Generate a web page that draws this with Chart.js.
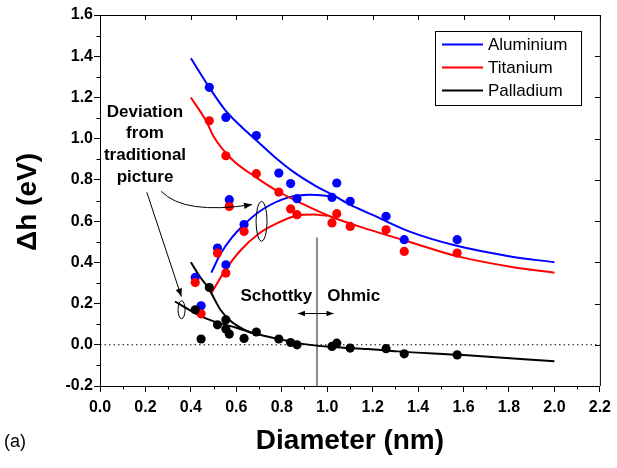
<!DOCTYPE html>
<html>
<head>
<meta charset="utf-8">
<script src="https://cdn.jsdelivr.net/npm/chart.js@4.4.0/dist/chart.umd.min.js"></script>
<style>
  html, body { margin: 0; padding: 0; background: #fff; }
  canvas { display: block; }
</style>
</head>
<body>
<canvas id="chart" width="617" height="468"></canvas>
<script>
// ================= DATA =================
const diam = [0.419, 0.445, 0.481, 0.517, 0.554, 0.554, 0.569, 0.634, 0.688, 0.787, 0.839, 0.867, 1.021, 1.042, 1.101, 1.259, 1.339, 1.572];
const alH  = [0.327, 0.189, 1.249, 0.469, 1.103, 0.388, 0.704, 0.583, 1.015, 0.833, 0.782, 0.709, 0.715, 0.785, 0.696, 0.623, 0.510, 0.510];
const tiH  = [0.302, 0.150, 1.087, 0.445, 0.917, 0.348, 0.671, 0.550, 0.830, 0.741, 0.659, 0.631, 0.591, 0.636, 0.574, 0.558, 0.453, 0.445];
const pdH  = [0.170, 0.028, 0.278, 0.097, 0.121, 0.076, 0.052, 0.031, 0.062, 0.028, 0.011, 0.000, -0.008, 0.008, -0.016, -0.019, -0.044, -0.049];

// fitted curves
const alFitUpX = [0.40, 0.48, 0.55, 0.62, 0.69, 0.77, 0.85, 0.95, 1.02, 1.10, 1.20, 1.36, 1.57, 1.80, 2.00];
const alFitUpY = [1.39, 1.25, 1.14, 1.06, 0.99, 0.91, 0.84, 0.77, 0.73, 0.68, 0.63, 0.55, 0.48, 0.43, 0.40];
const alFitLoX = [0.49, 0.53, 0.58, 0.64, 0.72, 0.83, 0.92, 1.03];
const alFitLoY = [0.35, 0.44, 0.52, 0.59, 0.66, 0.715, 0.728, 0.72];
const tiFitUpX = [0.40, 0.47, 0.50, 0.58, 0.69, 0.79, 0.88, 1.02, 1.18, 1.36, 1.57, 1.80, 2.00];
const tiFitUpY = [1.20, 1.08, 1.01, 0.90, 0.81, 0.74, 0.69, 0.62, 0.56, 0.50, 0.43, 0.38, 0.35];
const tiFitLoX = [0.49, 0.55, 0.62, 0.70, 0.78, 0.86, 0.94, 1.00];
const tiFitLoY = [0.25, 0.36, 0.46, 0.54, 0.59, 0.625, 0.632, 0.625];
const pdFitSteepX = [0.40, 0.44, 0.48, 0.53, 0.57, 0.60, 0.66, 0.70];
const pdFitSteepY = [0.40, 0.33, 0.27, 0.17, 0.12, 0.095, 0.06, 0.05];
const pdFitLongX = [0.33, 0.40, 0.45, 0.51, 0.60, 0.69, 0.80, 0.87, 1.02, 1.18, 1.31, 1.60, 2.00];
const pdFitLongY = [0.21, 0.165, 0.135, 0.11, 0.083, 0.052, 0.025, 0.008, -0.011, -0.021, -0.032, -0.05, -0.08];

const zeroX = [0, 2.2];
const zeroY = [0, 0];
const dividerX = [0.955, 0.955];
const dividerY = [-0.2, 0.52];

const xTicks = [0, 0.2, 0.4, 0.6, 0.8, 1.0, 1.2, 1.4, 1.6, 1.8, 2.0, 2.2];
const yTicks = [-0.2, 0, 0.2, 0.4, 0.6, 0.8, 1.0, 1.2, 1.4, 1.6];

const seriesNames = ["Aluminium", "Titanium", "Palladium"];
const seriesColors = ["#0000ff", "#ff0000", "#000000"];

const FONT = 'Arial, "Liberation Sans", sans-serif';


// ================= HELPERS =================
function pts(xs, ys) {
  return xs.map((x, i) => ({ x, y: ys[i] }));
}

function fitLine(xs, ys, color, order) {
  return {
    data: pts(xs, ys),
    showLine: true,
    borderColor: color,
    borderWidth: 2,
    pointRadius: 0,
    cubicInterpolationMode: "monotone",
    order
  };
}

function dots(ys, color, order) {
  return {
    data: pts(diam, ys),
    showLine: false,
    backgroundColor: color,
    borderColor: color,
    borderWidth: 0,
    pointRadius: 4.6,
    pointHoverRadius: 4.6,
    order
  };
}

function arrowHead(ctx, x, y, angle, len) {
  ctx.save();
  ctx.translate(x, y);
  ctx.rotate(angle);
  ctx.beginPath();
  ctx.moveTo(0, 0);
  ctx.lineTo(-len, -len * 0.4);
  ctx.lineTo(-len, len * 0.4);
  ctx.closePath();
  ctx.fill();
  ctx.restore();
}


// ================= DECORATION PLUGIN =================
const decor = {
  id: "decor",
  afterDraw(chart) {
    const ctx = chart.ctx;
    const xs = chart.scales.x;
    const ys = chart.scales.y;
    const a = chart.chartArea;
    const px = v => xs.getPixelForValue(v);
    const py = v => ys.getPixelForValue(v);

    ctx.save();
    ctx.strokeStyle = "#000";
    ctx.fillStyle = "#000";
    ctx.lineWidth = 1;

    // top + right frame
    ctx.beginPath();
    ctx.moveTo(a.left, a.top + 0.5);
    ctx.lineTo(a.right + 0.5, a.top + 0.5);
    ctx.lineTo(a.right + 0.5, a.bottom);
    ctx.stroke();

    // minor ticks (outward) and mirrored major ticks (inward)
    ctx.beginPath();
    for (let i = 0; i < xTicks.length - 1; i++) {
      const m = Math.round(px((xTicks[i] + xTicks[i + 1]) / 2)) + 0.5;
      ctx.moveTo(m, a.bottom);
      ctx.lineTo(m, a.bottom + 3.5);
    }
    for (let i = 0; i < yTicks.length - 1; i++) {
      const m = Math.round(py((yTicks[i] + yTicks[i + 1]) / 2)) + 0.5;
      ctx.moveTo(a.left, m);
      ctx.lineTo(a.left - 3.5, m);
    }
    xTicks.forEach(v => {
      const p = Math.round(px(v)) + 0.5;
      ctx.moveTo(p, a.top);
      ctx.lineTo(p, a.top + 5);
    });
    yTicks.forEach(v => {
      const p = Math.round(py(v)) + 0.5;
      ctx.moveTo(a.right, p);
      ctx.lineTo(a.right - 5, p);
    });
    ctx.stroke();

    // axis titles
    ctx.font = "bold 28px " + FONT;
    ctx.textAlign = "center";
    ctx.textBaseline = "middle";
    ctx.fillText("Diameter (nm)", (a.left + a.right) / 2, 441);
    ctx.save();
    ctx.translate(28, 202);
    ctx.rotate(-Math.PI / 2);
    ctx.fillText("\u0394h (eV)", 0, 0);
    ctx.restore();

    ctx.font = "18px " + FONT;
    ctx.textAlign = "left";
    ctx.fillText("(a)", 4, 442);

    // legend
    ctx.strokeRect(435.5, 31.5, 146, 74);
    ctx.font = "17px " + FONT;
    seriesNames.forEach((name, i) => {
      const yy = 44.5 + i * 23;
      ctx.strokeStyle = seriesColors[i];
      ctx.lineWidth = 2;
      ctx.beginPath();
      ctx.moveTo(442, yy);
      ctx.lineTo(483, yy);
      ctx.stroke();
      ctx.fillStyle = "#000";
      ctx.fillText(name, 488, yy + 1);
    });

    // annotations
    ctx.strokeStyle = "#000";
    ctx.fillStyle = "#000";
    ctx.lineWidth = 1;
    ctx.font = "bold 17px " + FONT;
    ctx.textAlign = "center";
    ["Deviation", "from", "traditional", "picture"].forEach((t, i) => {
      ctx.fillText(t, 145, 112 + i * 21.7);
    });
    ctx.fillText("Schottky", px(0.776), py(0.234));
    ctx.fillText("Ohmic", px(1.117), py(0.234));

    // ellipses
    ctx.beginPath();
    ctx.ellipse(px(0.711), py(0.599), 5.5, 20, 0, 0, Math.PI * 2);
    ctx.stroke();
    ctx.beginPath();
    ctx.ellipse(px(0.359), py(0.170), 3.5, 9, 0, 0, Math.PI * 2);
    ctx.stroke();

    // curved arrow to the big ellipse
    const sx = px(0.27), sy = py(0.744);
    const ex = px(0.669), ey = py(0.68);
    const cx = px(0.37), cy = py(0.63);
    ctx.beginPath();
    ctx.moveTo(sx, sy);
    ctx.quadraticCurveTo(cx, cy, ex, ey);
    ctx.stroke();
    arrowHead(ctx, ex, ey, Math.atan2(ey - cy, ex - cx), 8);

    // straight arrow to the small ellipse
    const s2x = px(0.206), s2y = py(0.74);
    const e2x = px(0.358), e2y = py(0.234);
    ctx.beginPath();
    ctx.moveTo(s2x, s2y);
    ctx.lineTo(e2x, e2y);
    ctx.stroke();
    arrowHead(ctx, e2x, e2y, Math.atan2(e2y - s2y, e2x - s2x), 8);

    // double arrow across the divider
    const dl = px(0.871), dr = px(1.028), dy = Math.round(py(0.155)) + 0.5;
    ctx.beginPath();
    ctx.moveTo(dl, dy);
    ctx.lineTo(dr, dy);
    ctx.stroke();
    arrowHead(ctx, dl, dy, Math.PI, 7);
    arrowHead(ctx, dr, dy, 0, 7);

    ctx.restore();
  }
};


// ================= CHART =================
new Chart(document.getElementById("chart"), {
  type: "scatter",
  data: {
    datasets: [
      {
        data: pts(zeroX, zeroY),
        showLine: true,
        borderColor: "#000",
        borderWidth: 1,
        borderDash: [1.5, 3],
        pointRadius: 0,
        order: 20
      },
      {
        data: pts(dividerX, dividerY),
        showLine: true,
        borderColor: "#666",
        borderWidth: 1.5,
        pointRadius: 0,
        order: 19
      },
      fitLine(alFitUpX, alFitUpY, seriesColors[0], 10),
      fitLine(alFitLoX, alFitLoY, seriesColors[0], 10),
      fitLine(tiFitUpX, tiFitUpY, seriesColors[1], 9),
      fitLine(tiFitLoX, tiFitLoY, seriesColors[1], 9),
      fitLine(pdFitSteepX, pdFitSteepY, seriesColors[2], 8),
      fitLine(pdFitLongX, pdFitLongY, seriesColors[2], 8),
      dots(alH, seriesColors[0], 3),
      dots(tiH, seriesColors[1], 2),
      dots(pdH, seriesColors[2], 1)
    ]
  },
  options: {
    responsive: false,
    animation: false,
    events: [],
    layout: { padding: { top: 15, right: 14, left: 0, bottom: 0 } },
    plugins: {
      legend: { display: false },
      tooltip: { enabled: false }
    },
    scales: {
      x: {
        type: "linear",
        min: 0,
        max: 2.2,
        afterFit(scale) { scale.height = 82; },
        afterBuildTicks(scale) { scale.ticks = xTicks.map(v => ({ value: v })); },
        ticks: {
          color: "#000",
          padding: 6,
          maxRotation: 0,
          font: { family: FONT, size: 16, weight: "bold" },
          callback: v => Number(v).toFixed(1)
        },
        grid: { drawOnChartArea: false, drawTicks: true, tickLength: 6, color: "#000" },
        border: { display: true, color: "#000", width: 1 }
      },
      y: {
        type: "linear",
        min: -0.2,
        max: 1.6,
        afterFit(scale) { scale.width = 100; },
        afterBuildTicks(scale) { scale.ticks = yTicks.map(v => ({ value: v })); },
        ticks: {
          color: "#000",
          padding: 1,
          font: { family: FONT, size: 16, weight: "bold" },
          callback: v => Number(v).toFixed(1)
        },
        grid: { drawOnChartArea: false, drawTicks: true, tickLength: 6, color: "#000" },
        border: { display: true, color: "#000", width: 1 }
      }
    }
  },
  plugins: [decor]
});
</script>
</body>
</html>
